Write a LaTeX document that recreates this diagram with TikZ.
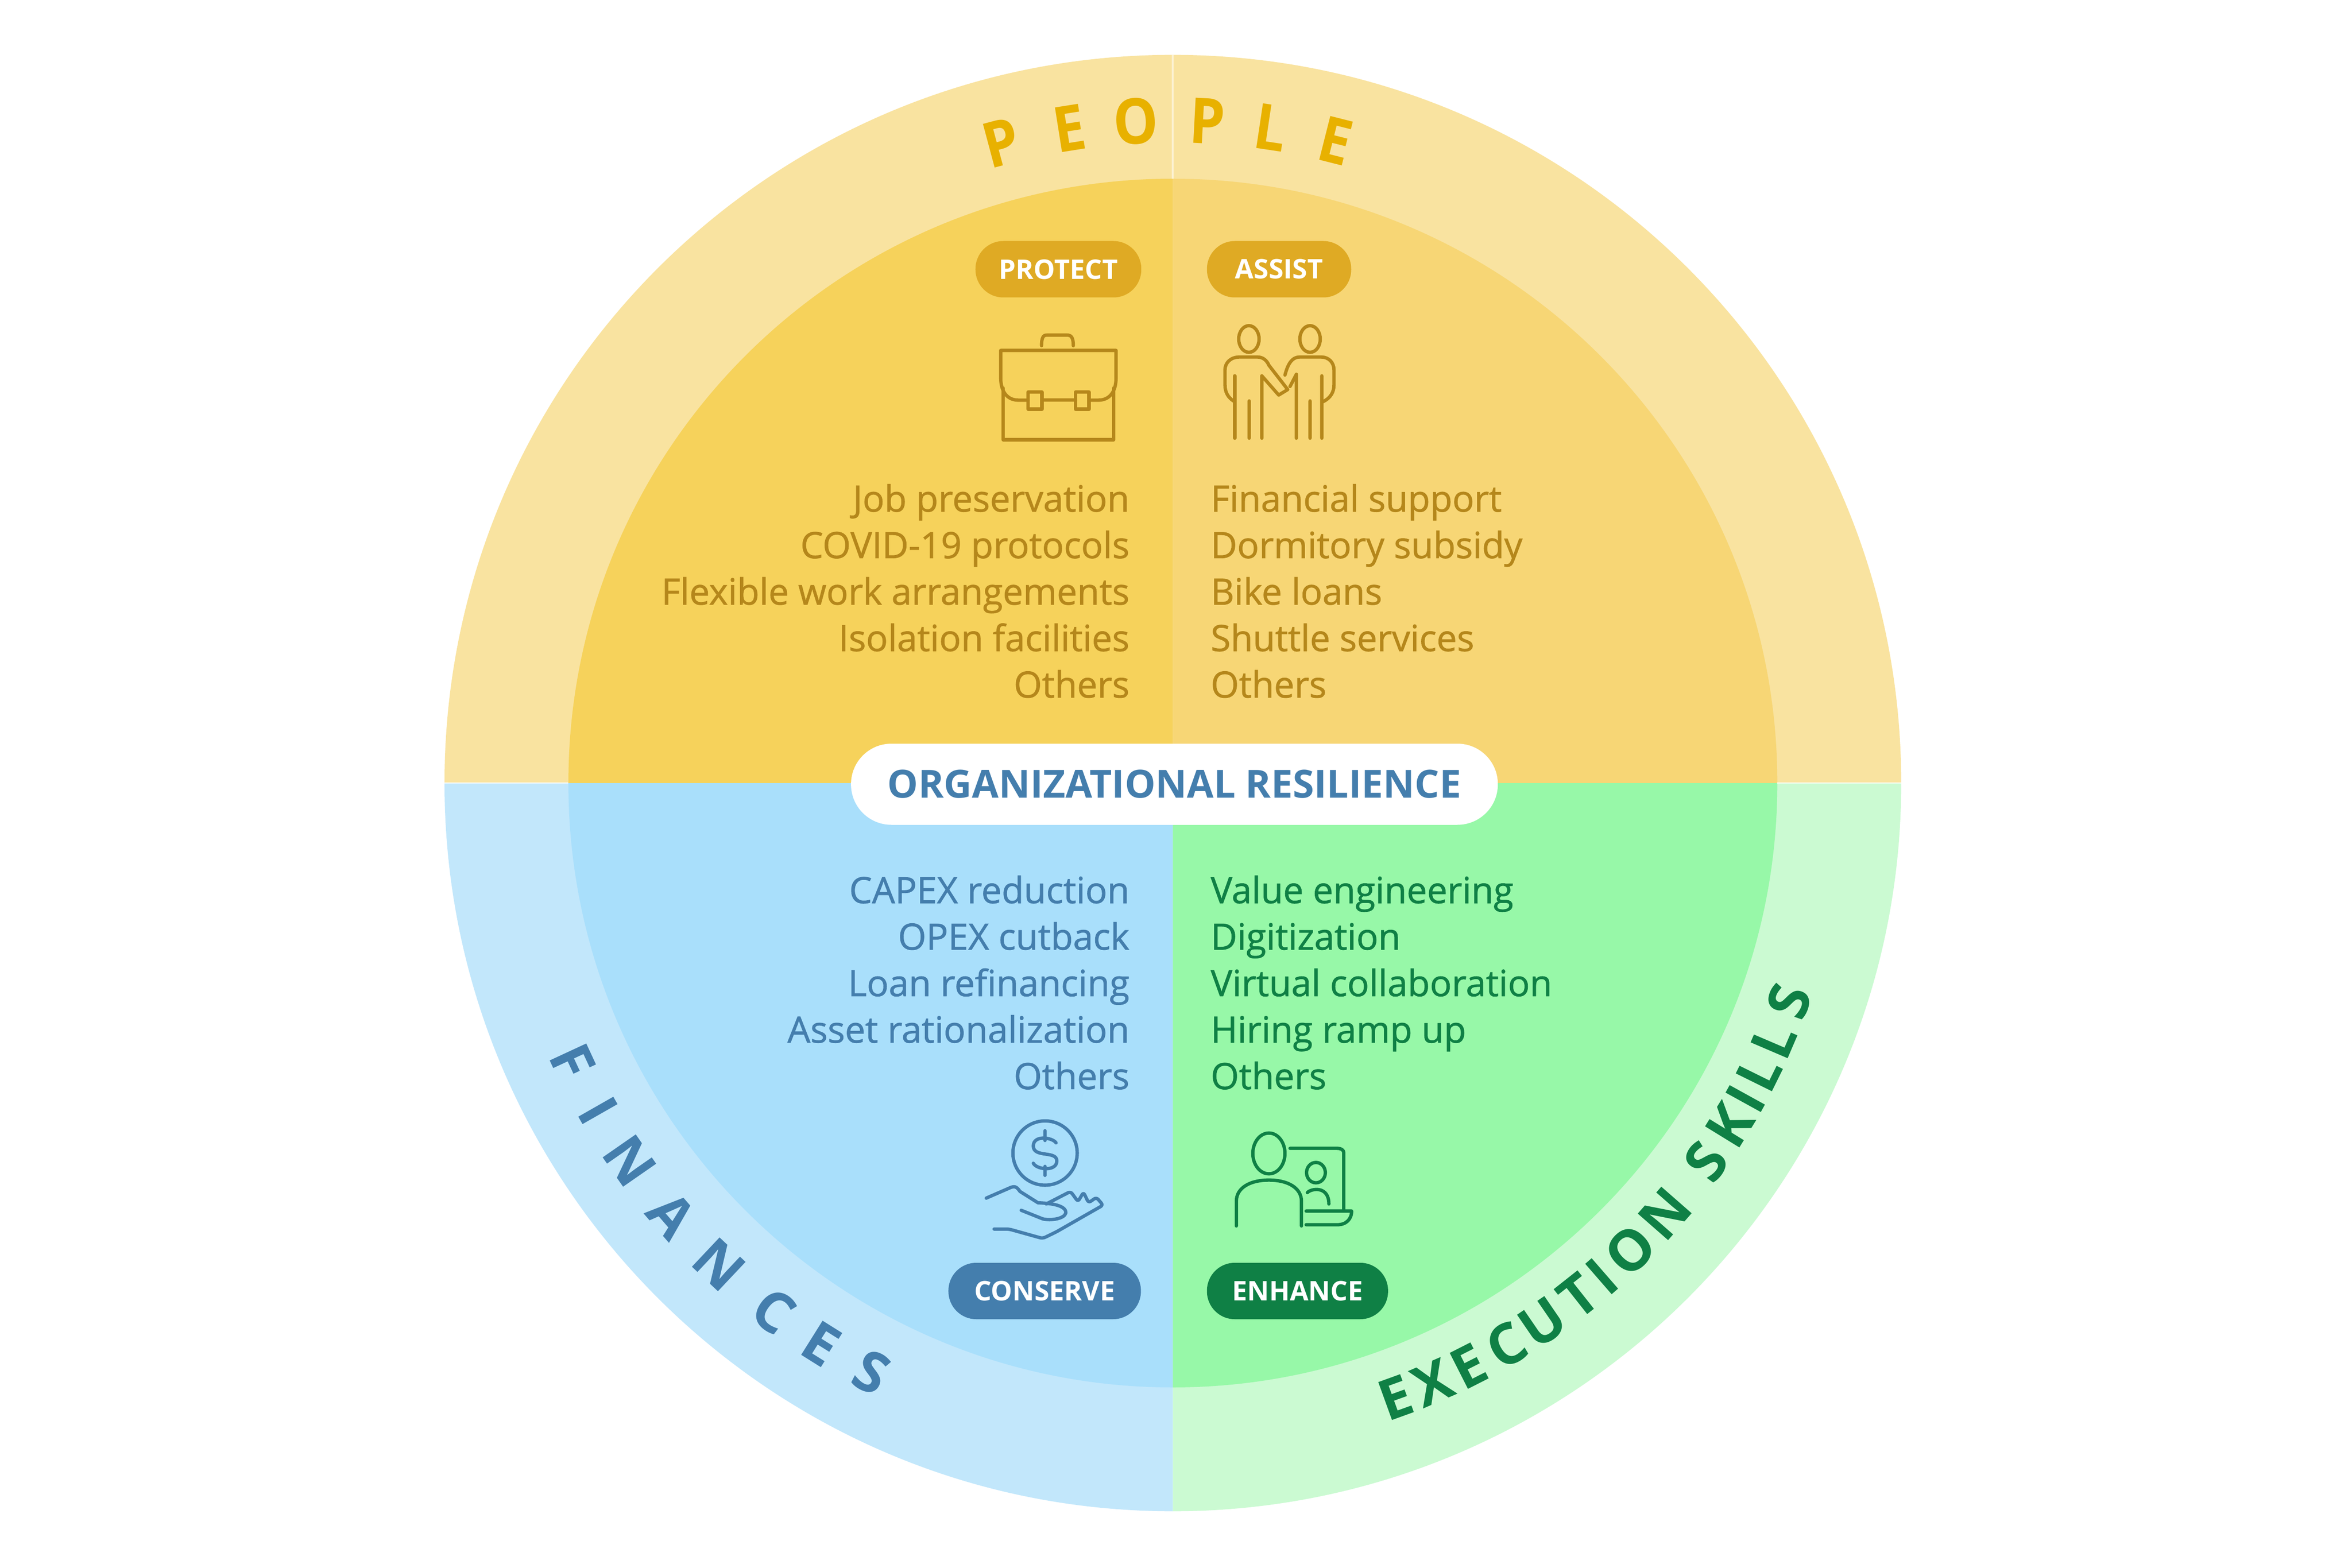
\documentclass[tikz,border=0pt]{standalone}
\usepackage{fontspec}
\setmainfont{Open Sans}
\newfontfamily\semifont{Open Sans}[FakeBold=1.1]
\usetikzlibrary{positioning}
\definecolor{ringgold}{HTML}{F9E3A0}
\definecolor{ringblue}{HTML}{C2E7FB}
\definecolor{ringgreen}{HTML}{CBFAD2}
\definecolor{coreprotect}{HTML}{F6D25B}
\definecolor{coreassist}{HTML}{F7D675}
\definecolor{coreblue}{HTML}{A9DFFB}
\definecolor{coregreen}{HTML}{97F8A8}
\definecolor{titlegold}{HTML}{E8B100}
\definecolor{pillgold}{HTML}{DFAA24}
\definecolor{inkgold}{HTML}{B5871B}
\definecolor{inkblue}{HTML}{447EAD}
\definecolor{inkgreen}{HTML}{0F8045}
\tikzset{
 listbox/.style={inner sep=0pt, font=\semifont\fontsize{26.3}{33.75}\selectfont},
 pillbox/.style={fill=#1, text=white, rounded corners=.71cm, minimum height=1.44cm, inner sep=0pt,
   font=\bfseries\fontsize{19.6}{24}\selectfont},
 ringletter/.style={text=#1, inner sep=0pt, font=\bfseries\fontsize{41}{41}\selectfont},
 iconline/.style={#1, line width=.085cm, line cap=round, line join=round}
}
\begin{document}
\begin{tikzpicture}
\fill[white] (-29.92,-20.02) rectangle (30.08,19.98);
\useasboundingbox (-29.92,-20.02) rectangle (30.08,19.98);
% outer ring and core, one quadrant at a time
\foreach \a/\ringc/\corec in {90/ringgold/coreprotect,0/ringgold/coreassist,180/ringblue/coreblue,270/ringgreen/coregreen} {
 \fill[\ringc] (0,0) -- (\a:18.58) arc (\a:\a+90:18.58) -- cycle;
 \fill[\corec] (0,0) -- (\a:15.42) arc (\a:\a+90:15.42) -- cycle;
}
\draw[white, opacity=.5, line width=.05cm] (-18.58,0)--(-15.42,0) (15.42,0)--(18.58,0) (0,15.42)--(0,18.58);
% ring titles, letter by letter
\foreach \ch/\ang [count=\n] in {P/105,E/99,O/93.2,P/87,L/81.5,E/75.8} {
 \node[ringletter=titlegold, rotate=\ang-90, yscale=1.12] (people\n) at (\ang:16.91) {\ch};
}
\foreach \ch/\ang [count=\n] in {F/204.9,I/209.7,N/214.8,A/220.8,N/226.7,C/232.9,E/237.9,S/242.9} {
 \node[ringletter=inkblue, rotate=\ang-270] (finances\n) at (\ang:16.88) {\ch};
}
\foreach \ch/\ang [count=\n] in {E/-70.1,X/-66.6,E/-63.1,C/-59.3,U/-55.6,T/-51.7,I/-49,O/-45.6,N/-41.2,S/-35.4,K/-31.6,I/-28.9,L/-26.3,L/-23.2,S/-19.5} {
 \node[ringletter=inkgreen, rotate=\ang+90] (skills\n) at (\ang:16.68) {\ch};
}
% lists
\node[listbox, text=inkgold, anchor=east, align=right] (protectlist) at (-1.10,4.9) {Job preservation\\COVID-19 protocols\\Flexible work arrangements\\Isolation facilities\\Others};
\node[listbox, text=inkgold, anchor=west, align=left] (assistlist) at (0.96,4.9) {Financial support\\Dormitory subsidy\\Bike loans\\Shuttle services\\Others};
\node[listbox, text=inkblue, anchor=east, align=right] (conservelist) at (-1.10,-5.09) {CAPEX reduction\\OPEX cutback\\Loan refinancing\\Asset rationalization\\Others};
\node[listbox, text=inkgreen, anchor=west, align=left] (enhancelist) at (0.96,-5.09) {Value engineering\\Digitization\\Virtual collaboration\\Hiring ramp up\\Others};
% pills
\node[pillbox=pillgold, minimum width=4.23cm] (protect) at (-2.92,13.11) {PROTECT};
\node[pillbox=pillgold, minimum width=3.68cm] (assist) at (2.71,13.11) {ASSIST};
\node[pillbox=inkblue, minimum width=4.91cm] (conserve) at (-3.27,-12.96) {CONSERVE};
\node[pillbox=inkgreen, minimum width=4.62cm] (enhance) at (3.18,-12.96) {ENHANCE};
\node[fill=white, text=inkblue, rounded corners=1.03cm, minimum width=16.5cm, minimum height=2.07cm, inner sep=0pt,
 font=\bfseries\fontsize{28.1}{32}\selectfont] (resilience) at (0.04,-.03) {ORGANIZATIONAL RESILIENCE};
% icons, in pixels of the sheet / 100
\begin{scope}[shift={(-29.92,19.98)}, y=-1cm]
 % briefcase
 \draw[iconline=inkgold] (26.57,8.82) .. controls (26.57,8.55) and (26.65,8.55) .. (26.72,8.55) -- (27.22,8.55) .. controls (27.32,8.55) and (27.38,8.6) .. (27.38,8.82);
 \draw[iconline=inkgold] (26.23,10.21) -- (25.98,10.21) .. controls (25.7,10.21) and (25.53,10) .. (25.53,9.65) -- (25.53,8.94) -- (28.47,8.94) -- (28.47,9.65) .. controls (28.47,10) and (28.3,10.21) .. (28.02,10.21) -- (27.78,10.21);
 \draw[iconline=inkgold] (26.23,10) rectangle (26.58,10.44) (27.44,10) rectangle (27.78,10.44) (26.58,10.21) -- (27.44,10.21);
 \draw[iconline=inkgold] (25.59,9.9) -- (25.59,11.22) -- (28.41,11.22) -- (28.41,9.9);
 % two people
 \draw[iconline=inkgold] (31.86,8.65) ellipse (.26 and .34) (33.42,8.65) ellipse (.26 and .34);
 \draw[iconline=inkgold] (31.5,10.25) .. controls (31.32,10.15) and (31.25,10) .. (31.25,9.82) -- (31.25,9.44) .. controls (31.25,9.25) and (31.4,9.11) .. (31.62,9.11) -- (32.08,9.11) .. controls (32.22,9.11) and (32.32,9.2) .. (32.37,9.32) -- (32.85,9.94) -- (32.62,10.08) -- (32.19,9.59) -- (32.19,11.18);
 \draw[iconline=inkgold] (31.5,9.59) -- (31.5,11.18) (31.87,10.23) -- (31.87,11.18);
 \draw[iconline=inkgold] (32.78,9.57) .. controls (32.85,9.3) and (32.95,9.11) .. (33.16,9.11) -- (33.7,9.11) .. controls (33.9,9.11) and (34.03,9.25) .. (34.03,9.44) -- (34.03,9.82) .. controls (34.03,10) and (33.95,10.15) .. (33.75,10.25);
 \draw[iconline=inkgold] (33.72,9.59) -- (33.72,11.18) (33.42,10.23) -- (33.42,11.18) (32.91,9.86) -- (33.07,9.55) -- (33.07,11.18);
 % coin on a hand
 \draw[iconline=inkblue] (26.66,29.42) circle (.82);
 \draw[iconline=inkblue] (26.66,28.85) -- (26.66,29.1) (26.66,29.76) -- (26.66,29.99);
 \draw[iconline=inkblue] (26.94,29.16) .. controls (26.85,29.02) and (26.36,28.95) .. (26.36,29.24) .. controls (26.36,29.55) and (26.96,29.35) .. (26.96,29.62) .. controls (26.96,29.9) and (26.45,29.85) .. (26.36,29.68);
 \draw[iconline=inkblue] (25.16,30.57) -- (25.78,30.3) .. controls (25.9,30.25) and (25.95,30.3) .. (26.02,30.4) -- (26.48,30.69) .. controls (26.8,30.7) and (27.2,30.75) .. (27.19,30.95) .. controls (27.15,31.1) and (26.8,31.15) .. (26.6,31.1) -- (26.05,30.88);
 \draw[iconline=inkblue, rounded corners=.07cm] (26.69,30.72) -- (27.31,30.4) -- (27.5,30.66) -- (27.64,30.42) -- (27.77,30.69) -- (27.97,30.55) -- (28.14,30.75) -- (26.95,31.43) -- (26.6,31.6) -- (25.74,31.36) -- (25.36,31.36);
 % person at a laptop
 \draw[iconline=inkgreen] (32.37,29.43) ellipse (.41 and .52) (33.57,29.92) ellipse (.24 and .26);
 \draw[iconline=inkgreen] (31.54,31.28) -- (31.54,30.65) .. controls (31.54,30.3) and (31.9,30.11) .. (32.37,30.11) .. controls (32.84,30.11) and (33.2,30.3) .. (33.2,30.65) -- (33.2,31.28);
 \draw[iconline=inkgreen] (32.91,29.3) -- (34.11,29.3) .. controls (34.22,29.3) and (34.28,29.35) .. (34.28,29.41) -- (34.28,30.86);
 \draw[iconline=inkgreen] (33.32,30.9) -- (34.48,30.9) .. controls (34.48,31.1) and (34.35,31.25) .. (34.11,31.25) -- (33.32,31.25);
 \draw[iconline=inkgreen] (33.35,30.43) .. controls (33.45,30.32) and (33.9,30.25) .. (33.9,30.72);
\end{scope}
\end{tikzpicture}
\end{document}
